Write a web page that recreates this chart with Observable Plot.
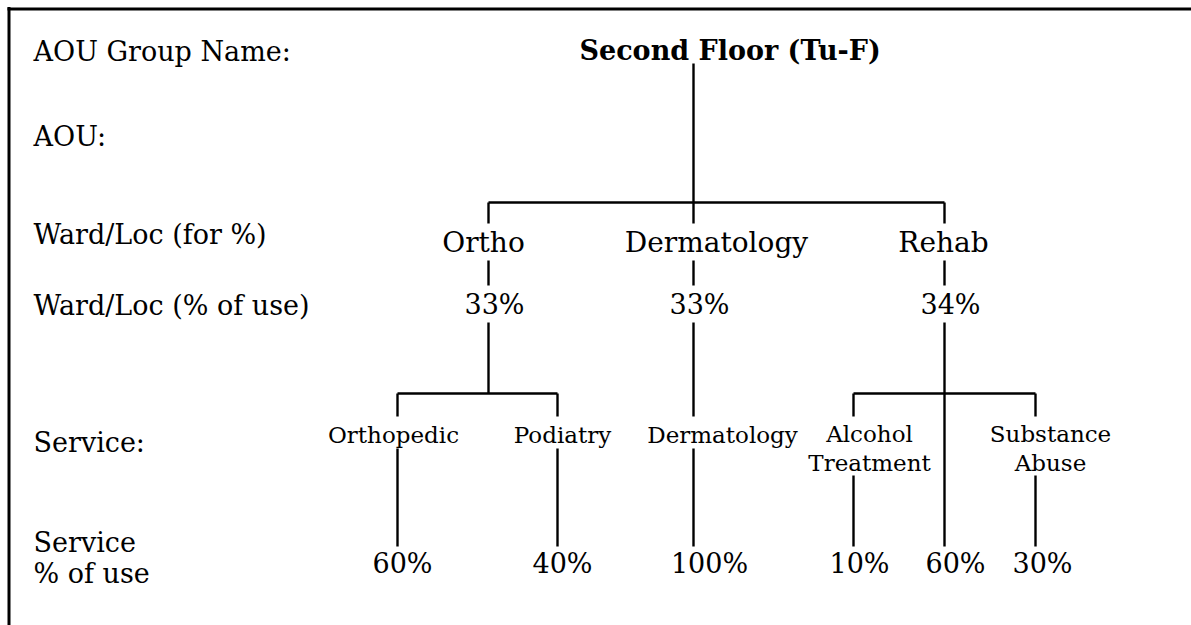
<!DOCTYPE html>
<html><head><meta charset="utf-8">
<script src="https://cdn.jsdelivr.net/npm/d3@7"></script>
<script src="https://cdn.jsdelivr.net/npm/@observablehq/plot@0.6"></script>
<style>
html,body{margin:0;padding:0;background:#fff;}
</style>
</head><body><div id="chart"></div>
<script>
// ---- data ----
const rowLabels = ["AOU Group Name:", "AOU:", "Ward/Loc (for %)", "Ward/Loc (% of use)", "Service:", "Service\n% of use"];
const groupName = "Second Floor (Tu-F)";
const wards = ["Ortho", "Dermatology", "Rehab"];
const wardShare = [33, 33, 34];
const services = ["Orthopedic", "Podiatry", "Dermatology", "Alcohol\nTreatment", "", "Substance\nAbuse"];
const serviceWard = ["Ortho", "Ortho", "Dermatology", "Rehab", "Rehab", "Rehab"];
const serviceShare = [60, 40, 100, 10, 60, 30];

// ---- layout (pixels) ----
const W = 1191, H = 625;
const font = "'DejaVu Serif', serif";
const rowX = 33;
const rowY = [51, 136, 234, 305, 442, 557];
const rootX = 693, titleX = 579;
const wardX = [488, 693, 944];
const wardLabelX = [483, 716, 943];
const wardPctX = [494, 699, 950];
const svcX = [397, 557, 693, 853, 944, 1035];
const svcLabelX = [393, 562, 722, 869, 944, 1050];
const svcPctX = [402, 562, 709, 859, 955, 1042];
const Y = {title: 51, rootTop: 63, bar1: 202, stub1: 223, wardLab: 243, midTop: 260, midBot: 285,
           wardPct: 305, pctBot: 322, bar2: 393, stub2: 416, svcLab: 433, svcLab2: 447,
           lab1Bot: 448, lab2Bot: 475, leafTop: 546, leafPct: 564};

// ---- build segments from the tree ----
const segs = [];
const seg = (x1, y1, x2, y2) => segs.push({x1, y1, x2, y2});
seg(rootX, Y.rootTop, rootX, Y.bar1);
seg(d3.min(wardX), Y.bar1, d3.max(wardX), Y.bar1);
wards.forEach((w, i) => {
  seg(wardX[i], Y.bar1, wardX[i], Y.stub1);
  seg(wardX[i], Y.midTop, wardX[i], Y.midBot);
  const kids = serviceWard.map((p, j) => p === w ? j : -1).filter(j => j >= 0);
  if (kids.length === 1) {
    seg(wardX[i], Y.pctBot, svcX[kids[0]], Y.stub2);
  } else {
    seg(wardX[i], Y.pctBot, wardX[i], Y.bar2);
    seg(d3.min(kids, j => svcX[j]), Y.bar2, d3.max(kids, j => svcX[j]), Y.bar2);
  }
});
services.forEach((s, j) => {
  const siblings = serviceWard.filter(p => p === serviceWard[j]).length;
  if (s === "") { seg(svcX[j], Y.bar2, svcX[j], Y.leafTop); return; }
  if (siblings > 1) seg(svcX[j], Y.bar2, svcX[j], Y.stub2);
  seg(svcX[j], s.includes("\n") ? Y.lab2Bot : Y.lab1Bot, svcX[j], Y.leafTop);
});

const wardRows = wards.map((w, i) => ({w, i, share: wardShare[i]}));
const svcRows = services.map((s, j) => ({s, j, share: serviceShare[j]}));

const chart = Plot.plot({
  width: W, height: H,
  margin: 0,
  x: {domain: [0, W], range: [0, W], axis: null},
  y: {domain: [0, H], range: [0, H], axis: null},
  style: {fontFamily: font, color: "#000", background: "#fff"},
  marks: [
    Plot.ruleY([8.5], {x1: 7.5, x2: W, stroke: "#000", strokeWidth: 3}),
    Plot.ruleX([8.5], {y1: 7, y2: H, stroke: "#000", strokeWidth: 3}),
    Plot.link(segs, {x1: "x1", y1: "y1", x2: "x2", y2: "y2", stroke: "#000", strokeWidth: 2.4}),
    Plot.text(rowLabels, {x: rowX, y: (d, i) => rowY[i], text: d => d, textAnchor: "start",
      fontSize: 27, lineHeight: 1.15, fill: "#000"}),
    Plot.text([groupName], {x: titleX, y: Y.title, text: d => d, textAnchor: "start",
      fontSize: 27, fontWeight: "bold", fill: "#000"}),
    Plot.text(wardRows, {x: d => wardLabelX[d.i], y: Y.wardLab, text: "w",
      fontSize: 28, fill: "#000"}),
    Plot.text(wardRows, {x: d => wardPctX[d.i], y: Y.wardPct, text: d => d.share + "%",
      fontSize: 27, fill: "#000"}),
    Plot.text(svcRows.filter(d => d.s !== ""), {x: d => svcLabelX[d.j],
      y: d => d.s.includes("\n") ? Y.svcLab2 : Y.svcLab, text: "s",
      fontSize: 23, lineHeight: 1.26, fill: "#000"}),
    Plot.text(svcRows, {x: d => svcPctX[d.j], y: Y.leafPct, text: d => d.share + "%",
      fontSize: 27, fill: "#000"})
  ]
});
document.getElementById("chart").appendChild(chart);
</script>
</body></html>
